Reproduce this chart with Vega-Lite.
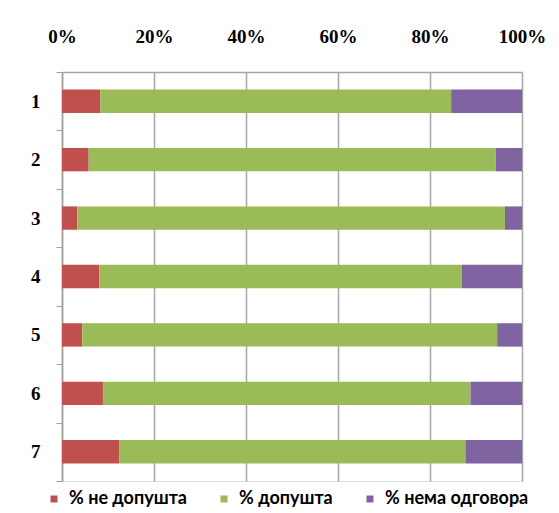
{
  "$schema": "https://vega.github.io/schema/vega-lite/v6.json",
  "width": 460,
  "height": 409,
  "autosize": "none",
  "padding": {"left": 62, "top": 72, "right": 37, "bottom": 32},
  "background": "white",
  "data": {
    "values": [
      {"q": "1", "cat": "% не допушта", "ord": 1, "pct": 8.3},
      {"q": "1", "cat": "% допушта", "ord": 2, "pct": 76.3},
      {"q": "1", "cat": "% нема одговора", "ord": 3, "pct": 15.4},
      {"q": "2", "cat": "% не допушта", "ord": 1, "pct": 5.8},
      {"q": "2", "cat": "% допушта", "ord": 2, "pct": 88.5},
      {"q": "2", "cat": "% нема одговора", "ord": 3, "pct": 5.7},
      {"q": "3", "cat": "% не допушта", "ord": 1, "pct": 3.3},
      {"q": "3", "cat": "% допушта", "ord": 2, "pct": 93.0},
      {"q": "3", "cat": "% нема одговора", "ord": 3, "pct": 3.7},
      {"q": "4", "cat": "% не допушта", "ord": 1, "pct": 8.1},
      {"q": "4", "cat": "% допушта", "ord": 2, "pct": 78.8},
      {"q": "4", "cat": "% нема одговора", "ord": 3, "pct": 13.1},
      {"q": "5", "cat": "% не допушта", "ord": 1, "pct": 4.4},
      {"q": "5", "cat": "% допушта", "ord": 2, "pct": 90.2},
      {"q": "5", "cat": "% нема одговора", "ord": 3, "pct": 5.4},
      {"q": "6", "cat": "% не допушта", "ord": 1, "pct": 8.9},
      {"q": "6", "cat": "% допушта", "ord": 2, "pct": 79.9},
      {"q": "6", "cat": "% нема одговора", "ord": 3, "pct": 11.2},
      {"q": "7", "cat": "% не допушта", "ord": 1, "pct": 12.5},
      {"q": "7", "cat": "% допушта", "ord": 2, "pct": 75.2},
      {"q": "7", "cat": "% нема одговора", "ord": 3, "pct": 12.3}
    ]
  },
  "mark": {"type": "bar", "height": {"band": 0.4}},
  "encoding": {
    "y": {
      "field": "q",
      "type": "nominal",
      "title": null,
      "scale": {"paddingInner": 0, "paddingOuter": 0},
      "axis": {
        "tickBand": "extent",
        "tickSize": 6,
        "tickColor": "#A0A0A0",
        "domainColor": "#A0A0A0",
        "domainWidth": 1.5,
        "labelFont": "Liberation Serif",
        "labelFontWeight": "bold",
        "labelFontSize": 19,
        "labelColor": "black",
        "labelPadding": 16,
        "grid": false
      }
    },
    "x": {
      "field": "pct",
      "type": "quantitative",
      "stack": "normalize",
      "title": null,
      "scale": {"domain": [0, 1]},
      "axis": {
        "orient": "top",
        "values": [0, 0.2, 0.4, 0.6, 0.8, 1],
        "format": ".0%",
        "grid": true,
        "gridColor": "#A6A6A6",
        "gridWidth": 1.5,
        "domainColor": "#A6A6A6",
        "domainWidth": 1.5,
        "tickSize": 0,
        "labelFlush": false,
        "labelFont": "Liberation Serif",
        "labelFontWeight": "bold",
        "labelFontSize": 19,
        "labelColor": "black",
        "labelPadding": 26
      }
    },
    "color": {
      "field": "cat",
      "type": "nominal",
      "title": null,
      "scale": {
        "domain": ["% не допушта", "% допушта", "% нема одговора"],
        "range": ["#C0504D", "#9BBB59", "#8064A2"]
      },
      "legend": {
        "orient": "none",
        "direction": "horizontal",
        "legendX": -17,
        "legendY": 418,
        "symbolType": "square",
        "symbolSize": 49,
        "symbolStrokeWidth": 0,
        "labelFont": "Lato",
        "labelFontWeight": "bold",
        "labelFontSize": 18,
        "labelColor": "black",
        "labelOffset": 6,
        "columnPadding": 28
      }
    },
    "order": {"field": "ord", "type": "quantitative"}
  }
}
